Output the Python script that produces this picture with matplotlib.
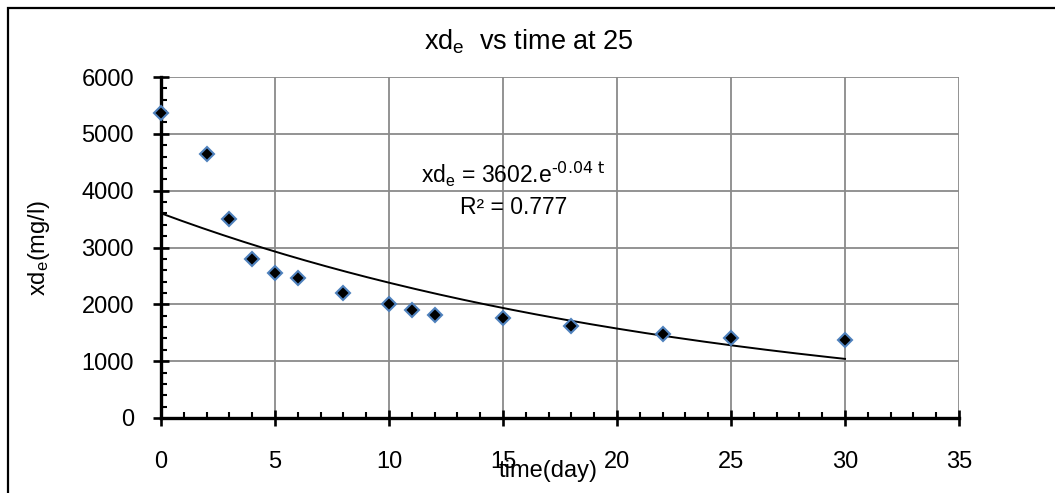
import numpy as np
import matplotlib
matplotlib.use("Agg")
import matplotlib.pyplot as plt
from matplotlib.patches import Rectangle
from matplotlib.ticker import MultipleLocator

plt.rcParams['font.family'] = ['Liberation Sans', 'DejaVu Sans']
plt.rcParams['mathtext.default'] = 'regular'

# data
time_day = [0, 2, 3, 4, 5, 6, 8, 10, 11, 12, 15, 18, 22, 25, 30]
xde = [5365, 4640, 3505, 2800, 2545, 2460, 2205, 2010, 1895, 1820, 1765, 1615, 1475, 1400, 1365]

# exponential trend line (as drawn)
fit_a = 3602
fit_k = 0.0414

W, H = 1055, 493
fig = plt.figure(figsize=(W / 100, H / 100), dpi=100)
ax = fig.add_axes([161 / W, 1 - 418 / H, (959 - 161) / W, (418 - 77) / H])

# outer chart frame, cropped at right and bottom
fig.patches.append(Rectangle((8 / W, -0.05), 1.1, 1 - 8 / H + 0.05,
                             transform=fig.transFigure, fill=False,
                             edgecolor='black', linewidth=1.6, zorder=0))

ax.grid(True, which='major', color='#8a8a8a', linewidth=1.3)
ax.set_axisbelow(True)

t = np.linspace(0, 30, 200)
ax.plot(t, fit_a * np.exp(-fit_k * t), color='black', linewidth=1.4, zorder=3)
ax.plot(time_day, xde, linestyle='none', marker='D', markersize=7,
        markerfacecolor='black', markeredgecolor='#4f81bd', markeredgewidth=1.5,
        zorder=6, clip_on=False)

ax.set_xlim(0, 35)
ax.set_ylim(0, 6000)
ax.xaxis.set_major_locator(MultipleLocator(5))
ax.xaxis.set_minor_locator(MultipleLocator(1))
ax.yaxis.set_major_locator(MultipleLocator(1000))
ax.yaxis.set_minor_locator(MultipleLocator(200))

for s in ['top', 'right']:
    ax.spines[s].set_visible(False)
for s in ['left', 'bottom']:
    ax.spines[s].set_linewidth(2.4)
    ax.spines[s].set_zorder(5)

ax.tick_params(which='major', direction='inout', length=11, width=1.9,
               labelsize=17)
ax.tick_params(axis='y', which='major', pad=14)
ax.tick_params(axis='x', which='major', pad=18)
ax.tick_params(which='minor', direction='in', length=4.5, width=1.5)

fig.text(529 / W, 1 - 42 / H, 'xd$_e$  vs time at 25', fontsize=19.5,
         ha='center', va='center')
ax.set_xlabel('time(day)', fontsize=17, va='center')
ax.xaxis.set_label_coords((548 - 161) / 798, (418 - 471) / 341)
ax.set_ylabel('xd$_e$(mg/l)', fontsize=17, va='center')
ax.yaxis.set_label_coords((39 - 161) / 798, 0.5)

ax.text(15.45, 4280, r'xd$_e$ = 3602.e$^{\text{-0.04 t}}$', fontsize=16.5,
        ha='center', va='center')
ax.text(15.45, 3710, 'R² = 0.777', fontsize=16.5, ha='center', va='center')

fig.savefig('out.png', dpi=100)
